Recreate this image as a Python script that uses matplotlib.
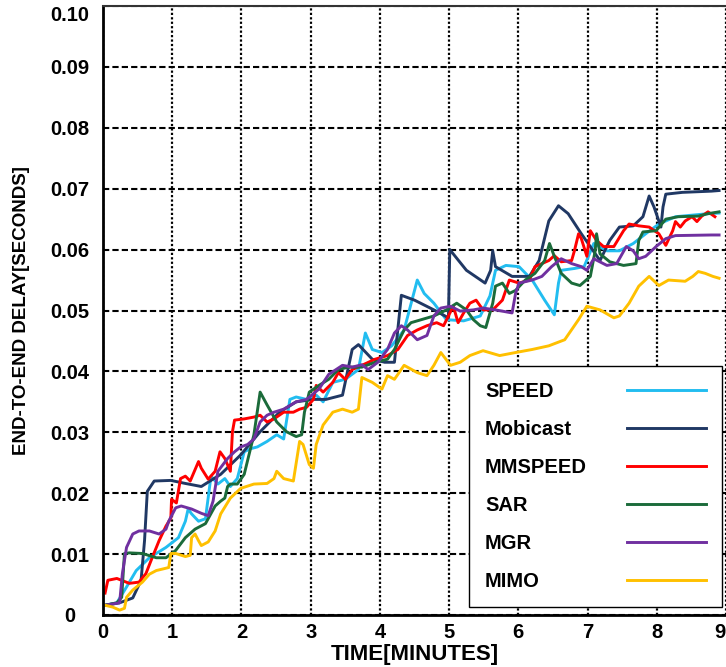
import numpy as np
import matplotlib
matplotlib.use('Agg')
import matplotlib.pyplot as plt

plt.rcParams['font.family'] = ['Liberation Sans', 'DejaVu Sans']
plt.rcParams['font.weight'] = 'bold'

names = ['SPEED', 'Mobicast', 'MMSPEED', 'SAR', 'MGR', 'MIMO']
colors = ['#22BDF0', '#203864', '#FF0000', '#1B6B3A', '#7030A0', '#FFC000']

# values (time in minutes, delay in seconds)
speed_t = [0.03, 0.20, 0.34, 0.48, 0.67, 0.91, 1.09, 1.19, 1.23, 1.28, 1.38, 1.48, 1.56, 1.66, 1.76,
           1.84, 1.94, 2.04, 2.13, 2.23, 2.37, 2.51, 2.61, 2.70, 2.79, 2.94, 3.08, 3.18, 3.32, 3.50,
           3.69, 3.79, 3.89, 4.03, 4.17, 4.35, 4.54, 4.64, 4.78, 4.96, 5.21, 5.45, 5.59, 5.67, 5.82,
           6.01, 6.20, 6.38, 6.52, 6.58, 6.62, 6.81, 6.95, 7.09, 7.28, 7.46, 7.66, 7.84, 8.03, 8.27, 8.74, 8.9]
speed_d = [0.0016, 0.0020, 0.0046, 0.0073, 0.0094, 0.0111, 0.0127, 0.0154, 0.0174, 0.0166, 0.0154, 0.0158, 0.0228, 0.0215, 0.0224,
           0.0211, 0.0224, 0.0268, 0.0273, 0.0276, 0.0285, 0.0296, 0.0289, 0.0354, 0.0358, 0.0354, 0.0361, 0.0350, 0.0382, 0.0387,
           0.0403, 0.0463, 0.0436, 0.0431, 0.0442, 0.0468, 0.0550, 0.0528, 0.0512, 0.0485, 0.0483, 0.0491, 0.0524, 0.0566, 0.0574,
           0.0572, 0.0550, 0.0517, 0.0493, 0.0545, 0.0566, 0.0569, 0.0572, 0.0610, 0.0598, 0.0598, 0.0610, 0.0626, 0.0642, 0.0654, 0.0659, 0.0660]

mobicast_t = [0.03, 0.24, 0.43, 0.55, 0.60, 0.64, 0.74, 0.98, 1.19, 1.42, 1.70, 1.99, 2.27, 2.55, 2.79,
              3.04, 3.22, 3.46, 3.60, 3.69, 3.89, 4.07, 4.21, 4.31, 4.50, 4.78, 4.99, 5.01, 5.25, 5.52,
              5.60, 5.63, 5.67, 5.91, 6.16, 6.30, 6.44, 6.58, 6.72, 6.91, 7.18, 7.32, 7.46, 7.66, 7.80,
              7.89, 7.96, 8.06, 8.09, 8.13, 8.37, 8.79, 8.9]
mobicast_d = [0.0016, 0.0020, 0.0028, 0.0057, 0.0122, 0.0203, 0.0220, 0.0221, 0.0216, 0.0211, 0.0231, 0.0263, 0.0301, 0.0333, 0.0350,
              0.0354, 0.0354, 0.0361, 0.0436, 0.0444, 0.0420, 0.0415, 0.0415, 0.0525, 0.0517, 0.0501, 0.0488, 0.0600, 0.0566, 0.0545,
              0.0566, 0.0598, 0.0572, 0.0556, 0.0556, 0.0582, 0.0647, 0.0672, 0.0659, 0.0626, 0.0582, 0.0615, 0.0637, 0.0639, 0.0654,
              0.0688, 0.0670, 0.0637, 0.0670, 0.0691, 0.0694, 0.0696, 0.0697]

mmspeed_t = [0.03, 0.07, 0.20, 0.38, 0.52, 0.62, 0.71, 0.81, 0.91, 0.98, 0.99, 1.06, 1.12, 1.19, 1.26,
             1.38, 1.42, 1.52, 1.62, 1.69, 1.76, 1.84, 1.87, 1.90, 2.04, 2.18, 2.27, 2.37, 2.47, 2.61,
             2.75, 2.84, 2.94, 3.04, 3.08, 3.18, 3.32, 3.40, 3.50, 3.60, 3.74, 3.93, 4.11, 4.26, 4.40,
             4.54, 4.68, 4.82, 4.92, 4.99, 5.06, 5.13, 5.21, 5.30, 5.39, 5.49, 5.63, 5.77, 5.87, 6.01,
             6.16, 6.24, 6.44, 6.52, 6.62, 6.77, 6.81, 6.87, 6.91, 6.99, 7.04, 7.13, 7.23, 7.38, 7.52,
             7.60, 7.74, 7.89, 8.03, 8.13, 8.23, 8.27, 8.34, 8.41, 8.51, 8.58, 8.65, 8.74, 8.84]
mmspeed_d = [0.0036, 0.0057, 0.0060, 0.0052, 0.0054, 0.0068, 0.0094, 0.0122, 0.0146, 0.0159, 0.0190, 0.0184, 0.0224, 0.0228, 0.0220,
             0.0252, 0.0241, 0.0223, 0.0236, 0.0268, 0.0257, 0.0236, 0.0301, 0.0320, 0.0322, 0.0325, 0.0328, 0.0317, 0.0322, 0.0333,
             0.0333, 0.0338, 0.0341, 0.0354, 0.0377, 0.0366, 0.0382, 0.0398, 0.0387, 0.0403, 0.0410, 0.0420, 0.0426, 0.0436, 0.0459,
             0.0468, 0.0475, 0.0480, 0.0475, 0.0491, 0.0507, 0.0480, 0.0496, 0.0512, 0.0517, 0.0501, 0.0501, 0.0517, 0.0550, 0.0545,
             0.0550, 0.0572, 0.0582, 0.0590, 0.0580, 0.0582, 0.0598, 0.0626, 0.0618, 0.0589, 0.0631, 0.0615, 0.0605, 0.0605, 0.0631,
             0.0642, 0.0639, 0.0637, 0.0626, 0.0607, 0.0631, 0.0646, 0.0637, 0.0647, 0.0654, 0.0646, 0.0655, 0.0662, 0.0654]

sar_t = [0.03, 0.20, 0.27, 0.31, 0.38, 0.57, 0.77, 0.91, 1.05, 1.19, 1.33, 1.48, 1.62, 1.70, 1.76,
         1.80, 1.84, 1.94, 2.04, 2.18, 2.27, 2.37, 2.51, 2.65, 2.79, 2.87, 2.91, 2.98, 3.12, 3.26,
         3.40, 3.55, 3.74, 3.93, 4.11, 4.21, 4.35, 4.45, 4.60, 4.78, 4.96, 5.11, 5.25, 5.35, 5.45,
         5.53, 5.63, 5.67, 5.77, 5.87, 5.96, 6.10, 6.24, 6.38, 6.45, 6.52, 6.62, 6.77, 6.89, 7.04,
         7.11, 7.13, 7.18, 7.32, 7.52, 7.70, 7.74, 7.80, 7.99, 8.13, 8.31, 8.60, 8.74, 8.9]
sar_d = [0.0016, 0.0020, 0.0029, 0.0101, 0.0102, 0.0101, 0.0094, 0.0094, 0.0106, 0.0127, 0.0141, 0.0150, 0.0179, 0.0187, 0.0192,
         0.0211, 0.0215, 0.0215, 0.0231, 0.0296, 0.0366, 0.0345, 0.0317, 0.0301, 0.0293, 0.0296, 0.0333, 0.0366, 0.0377, 0.0387,
         0.0403, 0.0407, 0.0407, 0.0415, 0.0420, 0.0436, 0.0468, 0.0480, 0.0485, 0.0491, 0.0501, 0.0512, 0.0501, 0.0485, 0.0475,
         0.0472, 0.0512, 0.0540, 0.0545, 0.0528, 0.0533, 0.0550, 0.0561, 0.0582, 0.0610, 0.0589, 0.0561, 0.0545, 0.0541, 0.0556,
         0.0598, 0.0626, 0.0593, 0.0580, 0.0574, 0.0577, 0.0615, 0.0629, 0.0631, 0.0650, 0.0654, 0.0655, 0.0659, 0.0662]

mgr_t = [0.03, 0.24, 0.28, 0.34, 0.43, 0.52, 0.67, 0.81, 0.91, 0.95, 1.05, 1.13, 1.28, 1.42, 1.52,
         1.59, 1.66, 1.80, 1.90, 1.99, 2.09, 2.18, 2.27, 2.37, 2.47, 2.61, 2.79, 2.94, 3.12, 3.26,
         3.46, 3.60, 3.74, 3.83, 3.97, 4.11, 4.21, 4.31, 4.40, 4.54, 4.68, 4.78, 4.88, 5.02, 5.16,
         5.35, 5.49, 5.67, 5.91, 5.96, 6.01, 6.20, 6.34, 6.48, 6.62, 6.77, 6.91, 6.99, 7.09, 7.28,
         7.42, 7.56, 7.66, 7.74, 7.84, 7.99, 8.13, 8.27, 8.79, 8.9]
mgr_d = [0.0016, 0.0020, 0.0068, 0.0111, 0.0133, 0.0138, 0.0138, 0.0133, 0.0141, 0.0154, 0.0176, 0.0179, 0.0174, 0.0167, 0.0163,
         0.0187, 0.0236, 0.0257, 0.0268, 0.0276, 0.0280, 0.0289, 0.0317, 0.0328, 0.0333, 0.0338, 0.0350, 0.0354, 0.0371, 0.0395,
         0.0410, 0.0407, 0.0411, 0.0403, 0.0415, 0.0436, 0.0463, 0.0475, 0.0468, 0.0452, 0.0459, 0.0491, 0.0504, 0.0507, 0.0499,
         0.0501, 0.0504, 0.0501, 0.0496, 0.0528, 0.0545, 0.0550, 0.0556, 0.0572, 0.0585, 0.0577, 0.0572, 0.0566, 0.0585, 0.0574,
         0.0577, 0.0605, 0.0598, 0.0585, 0.0589, 0.0605, 0.0618, 0.0623, 0.0624, 0.0624]

mimo_t = [0.03, 0.14, 0.24, 0.31, 0.34, 0.43, 0.57, 0.67, 0.77, 0.88, 0.95, 0.98, 1.05, 1.19, 1.26,
          1.28, 1.33, 1.38, 1.42, 1.52, 1.62, 1.70, 1.84, 1.99, 2.18, 2.37, 2.47, 2.51, 2.61, 2.75,
          2.84, 2.89, 2.98, 3.04, 3.08, 3.18, 3.32, 3.46, 3.60, 3.69, 3.74, 3.89, 4.03, 4.11, 4.21,
          4.35, 4.54, 4.68, 4.78, 4.88, 5.02, 5.16, 5.30, 5.49, 5.73, 5.96, 6.20, 6.44, 6.67, 6.87,
          6.99, 7.18, 7.38, 7.46, 7.60, 7.74, 7.89, 8.03, 8.17, 8.41, 8.52, 8.60, 8.70, 8.81, 8.9]
mimo_d = [0.0016, 0.0013, 0.0008, 0.0011, 0.0029, 0.0041, 0.0054, 0.0067, 0.0073, 0.0076, 0.0078, 0.0101, 0.0101, 0.0096, 0.0098,
          0.0127, 0.0133, 0.0122, 0.0114, 0.0120, 0.0138, 0.0166, 0.0192, 0.0208, 0.0215, 0.0216, 0.0224, 0.0236, 0.0224, 0.0220,
          0.0285, 0.0280, 0.0247, 0.0241, 0.0280, 0.0312, 0.0333, 0.0338, 0.0333, 0.0338, 0.0390, 0.0382, 0.0371, 0.0393, 0.0387,
          0.0410, 0.0398, 0.0393, 0.0410, 0.0431, 0.0410, 0.0415, 0.0426, 0.0434, 0.0426, 0.0431, 0.0436, 0.0442, 0.0452, 0.0485,
          0.0507, 0.0501, 0.0488, 0.0491, 0.0512, 0.0540, 0.0556, 0.0541, 0.0550, 0.0548, 0.0556, 0.0564, 0.0561, 0.0556, 0.0553]

series = [(speed_t, speed_d), (mobicast_t, mobicast_d), (mmspeed_t, mmspeed_d),
          (sar_t, sar_d), (mgr_t, mgr_d), (mimo_t, mimo_d)]

fig = plt.figure(figsize=(7.26, 6.67), dpi=100)
ax = fig.add_axes([103/726, 52/667, 623/726, 609/667])

for (t, d), name, c in zip(series, names, colors):
    ax.plot(t, d, color=c, lw=2.1, label=name, solid_joinstyle='round')

ax.set_xlim(0, 9)
ax.set_ylim(0, 0.1)
ax.set_xticks(range(0, 10))
ax.set_yticks(np.arange(0, 0.101, 0.01))
ax.set_yticklabels(['0'] + ['%.2f' % v for v in np.arange(0.01, 0.101, 0.01)])

ax.yaxis.grid(True, color='black', lw=1.5, linestyle=(0, (3, 1.5)))
ax.xaxis.grid(True, color='black', lw=1.6, linestyle=(0, (1, 1)))
ax.set_axisbelow(True)

ax.tick_params(length=0, labelsize=14.5)
ax.tick_params(axis='x', pad=6)
ax.tick_params(axis='y', pad=24)
for lab in ax.get_yticklabels():
    lab.set_ha('center')
ax.get_yticklabels()[-1].set_va('top')
ax.get_xticklabels()[-1].set_ha('right')

for s in ['left', 'bottom']:
    ax.spines[s].set_linewidth(2)
    ax.spines[s].set_color('black')
ax.spines['top'].set_linewidth(1.5)
ax.spines['top'].set_color('#333333')
ax.spines['right'].set_visible(False)

ax.set_xlabel('TIME[MINUTES]', fontsize=16, fontweight='bold')
ax.xaxis.set_label_coords(0.5, -0.047)
ax.set_ylabel('END-TO-END DELAY[SECONDS]', fontsize=13.5, fontweight='bold')
ax.yaxis.set_label_coords(-0.117, 0.5)

leg = ax.legend(loc='lower right', bbox_to_anchor=(722/726, 60/667), bbox_transform=fig.transFigure,
                borderaxespad=0, markerfirst=False, fancybox=False, edgecolor='black', framealpha=1,
                prop={'weight': 'bold', 'size': 14.5}, handlelength=3.9, handletextpad=2.0,
                labelspacing=0.94, borderpad=0.8)
leg.get_frame().set_linewidth(1.0)

# left-align the labels while keeping the line samples lined up on the right
fig.canvas.draw()
renderer = fig.canvas.get_renderer()
widths = [t.get_window_extent(renderer).width for t in leg.get_texts()]
items = leg._legend_handle_box.get_children()[0].get_children()
for item, w in zip(items, widths):
    item.sep = item.sep + (max(widths) - w) * 72 / fig.dpi

fig.savefig('out.png', dpi=100)
